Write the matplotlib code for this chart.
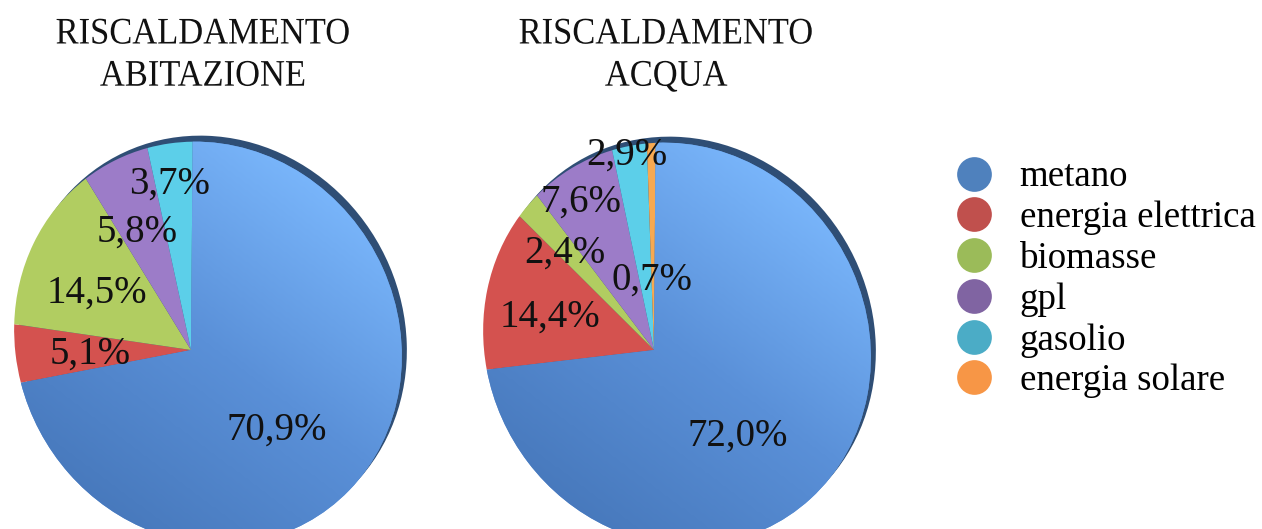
import numpy as np
import matplotlib
matplotlib.use("Agg")
import matplotlib.pyplot as plt
from matplotlib import transforms as mtransforms, patheffects
from matplotlib.colors import LinearSegmentedColormap
from matplotlib.lines import Line2D
from matplotlib.patches import Circle

# ---- data -------------------------------------------------------------
fuels = ["metano", "energia elettrica", "biomasse", "gpl", "gasolio", "energia solare"]
titles = ["RISCALDAMENTO\nABITAZIONE", "RISCALDAMENTO\nACQUA"]
share_abitazione = [70.9, 5.1, 14.5, 5.8, 3.7]
share_acqua = [72.0, 14.4, 2.4, 7.6, 2.9, 0.7]

legend_colors = ["#4f81bd", "#c0504d", "#9bbb59", "#8064a2", "#4bacc6", "#f79646"]
slice_colors = ["#5d93da", "#d4524f", "#b1cd61", "#9c7cc8", "#5ccfe9", "#f7a951"]

# ---- layout (figure pixels, y measured from the top) -------------------
W, H = 1262, 529
pies = [
    dict(values=share_abitazione, title=titles[0], center=(208, 343), apex=(191, 350),
         title_x=203,
         label_xy=[(277, 426), (90, 350), (97, 289), (137, 228), (170, 180)]),
    dict(values=share_acqua, title=titles[1], center=(677, 344), apex=(654, 350),
         title_x=666,
         label_xy=[(738, 432), (550, 313), (565, 249), (581, 198), (627, 151), (652, 276)]),
]
SEMI_MAJOR, SEMI_MINOR, TILT = 205, 190, -60   # perspective outline of the pies
START_ANGLE = 87.5
RIM_OFFSET = (5, 6)

SERIF = "Liberation Serif"
LABEL_PT = 28


class DiskShift(mtransforms.Transform):
    """Projective map of the unit disk onto itself moving its centre to `a`,
    keeping straight edges straight."""
    input_dims = output_dims = 2

    def __init__(self, a):
        super().__init__()
        self.a = np.asarray(a, float)

    def transform_non_affine(self, values):
        p = np.asarray(values, float)
        a = self.a
        g = 1.0 / np.sqrt(1.0 - a @ a)
        dot = p @ a
        return (a[None, :] * (1.0 + g / (1.0 + g) * dot)[:, None] + p / g) / (1.0 + dot)[:, None]


class Condense(patheffects.AbstractPathEffect):
    """Narrows glyph outlines horizontally around each line's centre."""

    def __init__(self, sx):
        super().__init__()
        self.sx = sx

    def draw_path(self, renderer, gc, tpath, affine, rgbFace=None):
        ext = tpath.get_extents()
        cx = 0.5 * (ext.x0 + ext.x1)
        squeeze = mtransforms.Affine2D().translate(-cx, 0).scale(self.sx, 1).translate(cx, 0)
        renderer.draw_path(gc, tpath, squeeze + affine, rgbFace)


fig = plt.figure(figsize=(W / 100, H / 100), dpi=100)
ax = fig.add_axes([0, 0, 1, 1])

blue_cmap = LinearSegmentedColormap.from_list("metano_light", ["#4677ba", "#5a90d8", "#7cb9fe"])
digit_half = 0.34 * LABEL_PT * 100 / 72

for cfg in pies:
    xc, yc = cfg["center"][0], H - cfg["center"][1]
    # stretch the unit disk along the tilted axis without turning it
    outline = (mtransforms.Affine2D().rotate_deg(-TILT).scale(SEMI_MAJOR, SEMI_MINOR)
               .rotate_deg(TILT).translate(xc, yc))
    apex = outline.inverted().transform((cfg["apex"][0], H - cfg["apex"][1]))
    vals = cfg["values"]

    # dark rim on the upper-right side
    rim = Circle((0, 0), 1, facecolor="#2f4e75", edgecolor="none", zorder=0.5)
    rim.set_transform(outline + mtransforms.Affine2D().translate(*RIM_OFFSET) + ax.transData)
    ax.add_patch(rim)

    wedges, _ = ax.pie(vals, colors=slice_colors[:len(vals)], startangle=START_ANGLE,
                       counterclock=False, radius=1, center=(0, 0),
                       wedgeprops=dict(linewidth=0))
    to_screen = DiskShift(apex) + outline + ax.transData
    for w in wedges:
        w.set_transform(to_screen)
        w.set_zorder(1)

    # light-to-dark shading over the large metano slice
    n = 200
    xs = np.linspace(-1, 1, n)
    gx, gy = np.meshgrid(xs, xs)
    shade = (gx * 0.6 + gy * 0.8 + 1.0) / 2.0
    im = ax.imshow(shade, cmap=blue_cmap, vmin=0, vmax=1, origin="lower",
                   extent=(xc - 215, xc + 215, yc - 215, yc + 215), zorder=1.5,
                   interpolation="bilinear")
    im.set_clip_path(wedges[0])

    # percentage labels
    for v, (lx, ly) in zip(vals, cfg["label_xy"]):
        ax.text(lx, H - ly - digit_half, f"{v:.1f}%".replace(".", ","),
                ha="center", va="baseline", fontsize=LABEL_PT, family=SERIF,
                color="#111111", zorder=3)

    ax.text(cfg["title_x"], H - 17, cfg["title"], ha="center", va="top",
            fontsize=27, family=SERIF, color="#111111", linespacing=1.29,
            path_effects=[Condense(0.92)])

ax.set_xlim(0, W)
ax.set_ylim(0, H)
ax.set_aspect("auto")
ax.axis("off")

handles = [Line2D([], [], linestyle="none", marker="o", markersize=25,
                  markerfacecolor=c, markeredgecolor="none") for c in legend_colors]
ax.legend(handles, fuels, loc="upper left", bbox_to_anchor=(956 / W, 1 - 160 / H),
          bbox_transform=fig.transFigure, frameon=False, borderpad=0, borderaxespad=0,
          handlelength=1.0, handletextpad=0.72, labelspacing=0.17,
          prop=dict(family=SERIF, size=26.6))

fig.savefig("out.png", dpi=100)
